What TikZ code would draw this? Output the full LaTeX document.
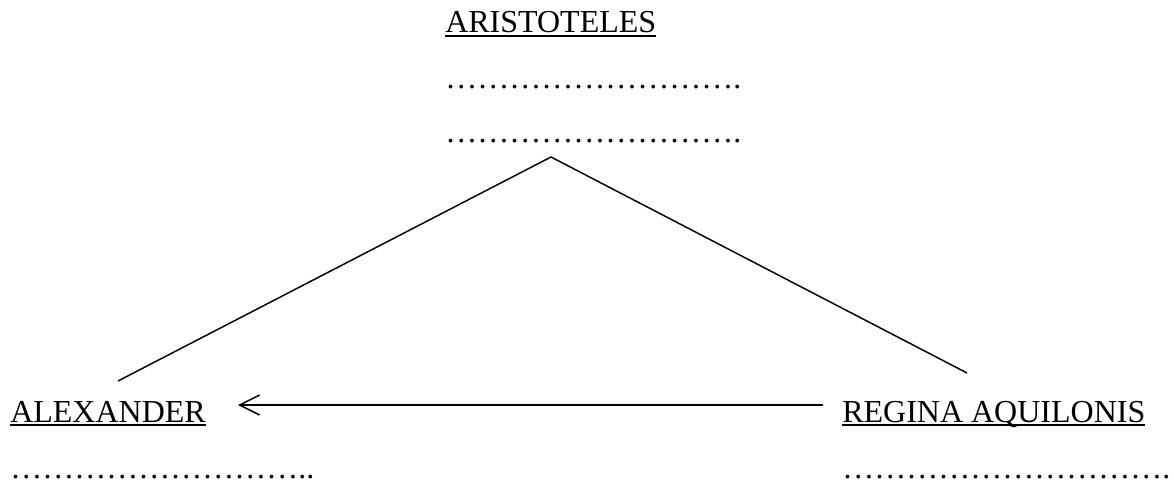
\documentclass[tikz,border=0pt]{standalone}
\usepackage{fontspec}
\setmainfont{Liberation Serif}
\usetikzlibrary{arrows.meta}
% underlined name, thick rule just below the baseline
\newcommand{\undername}[1]{\setbox0\hbox{#1}\rlap{\usebox0}\rule[-3pt]{\wd0}{1.6pt}}
% a run of n ellipses to write on
\newcommand{\dotrun}[1]{\foreach \k in {1,...,#1}{…}}
\tikzset{
    name text/.style={anchor=base west, inner sep=0pt, font=\fontsize{24}{28}\selectfont},
    blank/.style={anchor=base west, inner sep=0pt, text depth=0pt, font=\fontsize{24}{28}\selectfont},
    link/.style={line width=1.1pt},
}
\begin{document}
\begin{tikzpicture}[x=0.75pt, y=-0.75pt]
    \useasboundingbox (0,0) rectangle (1174,481);
    % top: the teacher
    \node[name text] (arist) at (445,33) {\undername{ARISTOTELES}};
    \node[blank] (topa) at (445,89) {\dotrun{9}.};
    \node[blank] (topb) at (445,143) {\dotrun{9}.};
    % the two links down from him
    \coordinate (apex) at (551,157);
    \coordinate (endl) at (118,381);
    \coordinate (endr) at (967,373);
    \draw[link] (endl) -- (apex) -- (endr);
    % bottom row
    \node[name text] (alex) at (10,422) {\undername{ALEXANDER}};
    \node[name text] (regina) at (842,422) {\undername{REGINA AQUILONIS}};
    \node[blank] (alexdots) at (10,478) {\dotrun{9}..};
    \node[blank] (reginadots) at (842,478) {\dotrun{10}.};
    \coordinate (tail) at (823,405);
    \coordinate (tip) at (238,405);
    \draw[link, -{Straight Barb[length=15pt,width=15pt,line width=1.1pt]}] (tail) -- (tip);
\end{tikzpicture}
\end{document}
